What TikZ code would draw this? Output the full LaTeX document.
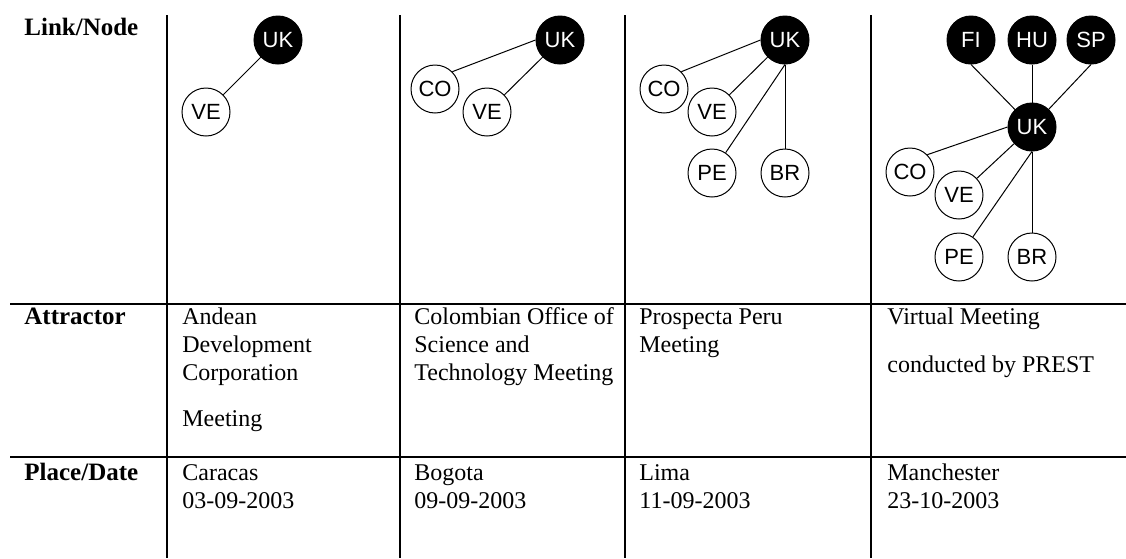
\documentclass[tikz,border=0pt]{standalone}
\usepackage{fontspec}
\setmainfont{Liberation Serif}
\newfontfamily\labelfont{Liberation Sans}
\begin{document}
\begin{tikzpicture}[x=0.5pt,y=-0.5pt,
  rule/.style={line width=1pt},
  country/.style={circle,draw=black,line width=0.5pt,minimum size=24pt,inner sep=0pt,
    font=\labelfont\fontsize{11}{13}\selectfont},
  hub/.style={country,fill=black,text=white},
  leaf/.style={country,fill=white,text=black},
  link/.style={line width=0.5pt},
  cell/.style={anchor=base west,inner sep=0pt,font=\fontsize{12}{14}\selectfont},
  head/.style={anchor=base west,inner sep=0pt,font=\bfseries\fontsize{12.5}{14}\selectfont}]
\useasboundingbox (0,0) rectangle (1126,558);
\fill[white] (0,0) rectangle (1126,558);

% table rules
\coordinate (v1t) at (167,15);  \coordinate (v1b) at (167,558);
\coordinate (v2t) at (400,15);  \coordinate (v2b) at (400,558);
\coordinate (v3t) at (625,15);  \coordinate (v3b) at (625,558);
\coordinate (v4t) at (871,15);  \coordinate (v4b) at (871,558);
\coordinate (h1l) at (10,304);  \coordinate (h1r) at (1126,304);
\coordinate (h2l) at (10,457);  \coordinate (h2r) at (1126,457);
\draw[rule] (v1t) -- (v1b);
\draw[rule] (v2t) -- (v2b);
\draw[rule] (v3t) -- (v3b);
\draw[rule] (v4t) -- (v4b);
\draw[rule] (h1l) -- (h1r);
\draw[rule] (h2l) -- (h2r);

% row headers
\node[head] (hlink) at (24,35) {Link/Node};
\node[head] (hattr) at (24,324) {Attractor};
\node[head] (hplace) at (24,480) {Place/Date};

% column 1 graph
\node[hub]  (uk1) at (278,40)  {UK};
\node[leaf] (ve1) at (206,112) {VE};
\draw[link] (uk1) -- (ve1);

% column 2 graph
\node[hub]  (uk2) at (560,40)  {UK};
\node[leaf] (co2) at (435,89)  {CO};
\node[leaf] (ve2) at (487,112) {VE};
\draw[link] (uk2.west) -- (co2.north east);
\draw[link] (uk2) -- (ve2);

% column 3 graph
\node[hub]  (uk3) at (785,40)  {UK};
\node[leaf] (co3) at (664,89)  {CO};
\node[leaf] (ve3) at (712,112) {VE};
\node[leaf] (pe3) at (712,173) {PE};
\node[leaf] (br3) at (785,173) {BR};
\draw[link] (uk3.west) -- (co3.north east);
\draw[link] (uk3) -- (ve3);
\draw[link] (uk3.south) -- (pe3);
\draw[link] (uk3) -- (br3);

% column 4 graph
\node[hub]  (fi4) at (971,40)   {FI};
\node[hub]  (hu4) at (1032,40)  {HU};
\node[hub]  (sp4) at (1091,40)  {SP};
\node[hub]  (uk4) at (1032,127) {UK};
\node[leaf] (co4) at (910,172)  {CO};
\node[leaf] (ve4) at (959,195)  {VE};
\node[leaf] (pe4) at (959,257)  {PE};
\node[leaf] (br4) at (1032,257) {BR};
\draw[link] (fi4.south) -- (uk4);
\draw[link] (hu4) -- (uk4);
\draw[link] (sp4.south) -- (uk4);
\draw[link] (uk4.west) -- (co4.north east);
\draw[link] (uk4) -- (ve4);
\draw[link] (uk4.south) -- (pe4);
\draw[link] (uk4) -- (br4);

% attractor row
\node[cell] (a1a) at (182,324) {Andean};
\node[cell] (a1b) at (182,352) {Development};
\node[cell] (a1c) at (182,380) {Corporation};
\node[cell] (a1d) at (182,426) {Meeting};
\node[cell] (a2a) at (414,324) {Colombian Office of};
\node[cell] (a2b) at (414,352) {Science and};
\node[cell] (a2c) at (414,380) {Technology Meeting};
\node[cell] (a3a) at (639,324) {Prospecta Peru};
\node[cell] (a3b) at (639,352) {Meeting};
\node[cell] (a4a) at (887,324) {Virtual Meeting};
\node[cell] (a4b) at (887,372) {conducted by PREST};

% place/date row
\node[cell] (p1a) at (182,480) {Caracas};
\node[cell] (p1b) at (182,508) {03-09-2003};
\node[cell] (p2a) at (414,480) {Bogota};
\node[cell] (p2b) at (414,508) {09-09-2003};
\node[cell] (p3a) at (639,480) {Lima};
\node[cell] (p3b) at (639,508) {11-09-2003};
\node[cell] (p4a) at (887,480) {Manchester};
\node[cell] (p4b) at (887,508) {23-10-2003};
\end{tikzpicture}
\end{document}
